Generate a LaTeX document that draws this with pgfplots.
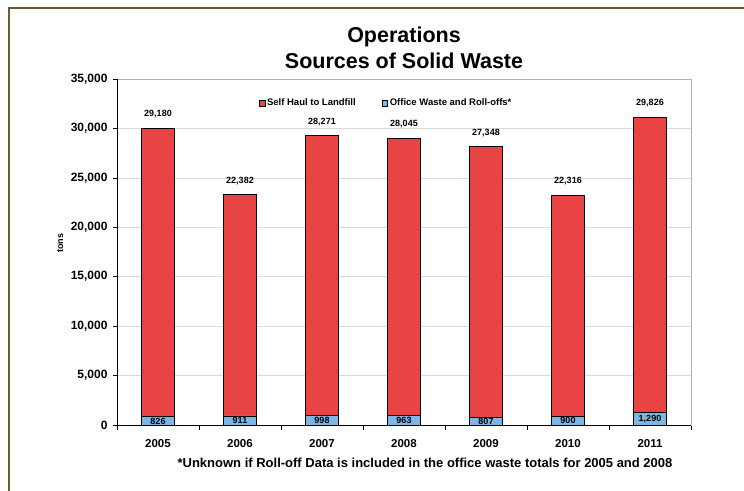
\documentclass[border=0pt]{standalone}
\usepackage{pgfplots}
\pgfplotsset{compat=1.18}
\usepackage{fontspec}
\setmainfont{Liberation Sans}
\definecolor{redbar}{HTML}{E84443}
\definecolor{bluebar}{HTML}{7DB5E3}
\definecolor{framec}{HTML}{6B5830}
\pgfplotsset{/pgf/number format/1000 sep={,}}
\begin{document}
\begin{tikzpicture}[x=1pt,y=1pt]
\useasboundingbox (0,0) rectangle (744,490);
\draw[framec, line width=2.5pt] (9,-5) -- (9,482) -- (750,482);
\begin{axis}[
  at={(117pt,65pt)}, anchor=south west,
  scale only axis, width=574pt, height=346pt,
  xmin=-0.5, xmax=6.5, ymin=0, ymax=35000,
  ybar stacked, bar width=33pt,
  xtick={0,...,6},
  xticklabels={2005,2006,2007,2008,2009,2010,2011},
  minor xtick={-0.5,0.5,...,6.5},
  ytick distance=5000,
  scaled y ticks=false,
  /pgf/number format/assume math mode=true,
  tick align=outside,
  xtick pos=bottom, ytick pos=left,
  major tick length=4pt, minor tick length=5pt,
  tick style={black, line width=0.6pt},
  major x tick style={draw=none},
  ymajorgrids, major grid style={draw=black!15, line width=0.6pt},
  axis line style={draw=black!30, line width=0.8pt},
  yticklabel style={font=\bfseries\fontsize{12}{14}\selectfont, xshift=-2pt},
  xticklabel style={font=\bfseries\fontsize{11.5}{13}\selectfont, yshift=-7pt},
  ylabel={tons},
  ylabel style={at={(axis description cs:-0.099,0.526)}, anchor=center, font=\bfseries\fontsize{9}{11}\selectfont},
  xlabel={*Unknown if Roll-off Data is included in the office waste totals for 2005 and 2008},
  xlabel style={at={(axis description cs:0.5366,-0.1098)}, anchor=center, font=\bfseries\fontsize{13}{15}\selectfont},
  title={Operations\\Sources of Solid Waste},
  title style={align=center, at={(axis description cs:0.5,1.072)}, anchor=center, font=\bfseries\fontsize{21.5}{26}\selectfont},
  legend columns=2,
  legend style={at={(axis description cs:0.469,0.93)}, anchor=center, draw=none, fill=none,
    font=\bfseries\fontsize{9.5}{11}\selectfont,
    /tikz/every even column/.append style={column sep=24pt}},
  legend image code/.code={\draw[#1, line width=0.5pt] (0pt,-2.8pt) rectangle (5.6pt,2.8pt);},
  after end axis/.code={
    \draw[black, line width=0.9pt] (rel axis cs:0,1) -- (rel axis cs:0,0) -- (rel axis cs:1,0);
  },
]
\addlegendimage{fill=redbar, draw=black}
\addlegendentry{Self Haul to Landfill}
\addlegendimage{fill=bluebar, draw=black}
\addlegendentry{Office Waste and Roll-offs*}
\addplot[fill=bluebar, draw=black, line width=0.8pt,
  point meta=explicit,
  nodes near coords={\pgfmathprintnumber{\pgfplotspointmeta}},
  every node near coord/.append style={anchor=center, inner sep=1pt, yshift=0pt, black,
    font=\bfseries\fontsize{9}{10}\selectfont}]
  coordinates {(0,826)[826] (1,911)[911] (2,998)[998] (3,963)[963] (4,807)[807] (5,900)[900] (6,1290)[1290]};
\addplot[fill=redbar, draw=black, line width=0.8pt]
  coordinates {(0,29180) (1,22382) (2,28271) (3,28045) (4,27348) (5,22316) (6,29826)};
\addplot[draw=none, fill=none,
  point meta=explicit,
  nodes near coords={\pgfmathprintnumber{\pgfplotspointmeta}},
  every node near coord/.append style={anchor=south, inner sep=1pt, yshift=9pt, black,
    font=\bfseries\fontsize{9}{10}\selectfont}]
  coordinates {(0,1)[29180] (1,1)[22382] (2,1)[28271] (3,1)[28045] (4,1)[27348] (5,1)[22316] (6,1)[29826]};
\end{axis}
\end{tikzpicture}
\end{document}
